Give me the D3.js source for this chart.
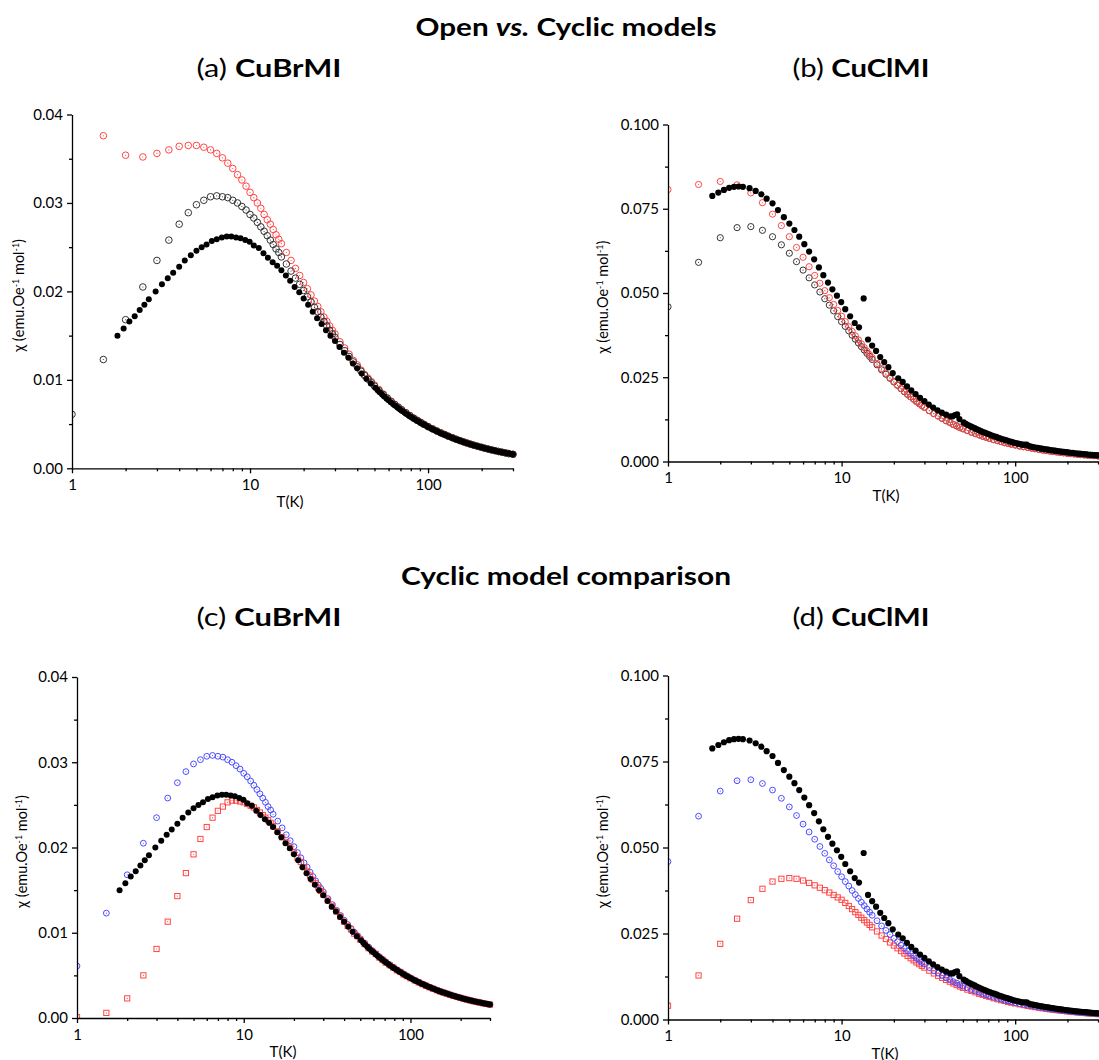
<!DOCTYPE html>
<html>
<head>
<meta charset="utf-8">
<script src="https://cdn.jsdelivr.net/npm/d3@7"></script>
<style>
body { margin: 0; background: #fff; }
svg { display: block; }
</style>
</head>
<body>
<svg id="fig" width="1099" height="1060"></svg>
<script>
// temperature grid used by the model curves (K)
const T_model = [1,1.5,2,2.5,3,3.5,4,4.5,5,5.5, 6,6.5,7,7.5,8,8.5,9,9.5,10,10.5,
    11,11.5,12,12.5,13,13.5,14,14.5,15,16, 17,18,19,20,21,22,23,24,25,26,
    27,28,29,30,32,34,36,38,40,42, 44,46,48,50,53,56,59,62,65,68,
    71,75,79,83,87,91,95,100,106,112, 118,124,130,137,144,151,158,165,173,181,
    190,199,208,218,228,238,249,260,272,284, 300];

// CuBrMI measured
const T_br_exp = [1.8,1.95,2.1,2.25,2.4,2.55,2.7,2.95,3.2,3.45, 3.7,4.0,4.3,4.65,5.0,5.35,5.7,6.1,6.5,6.95,
    7.4,7.85,8.35,8.85,9.4,9.95,10.5,11.2,11.9,12.6, 13.4,14.2,15.0,15.9,16.8,17.8,18.9,
    20.0,21.2,22.5,23.8,25.2,26.7,28.3,30.0,31.8,33.7, 35.7,37.8,40.0,42.4,45.0,47.7,50.5,52.0,53.5,55.1,
    56.7,58.4,60.0,61.8,63.6,65.5,67.4,69.4,71.4,73.5, 75.7,77.9,80.2,82.6,85.0,87.5,90.0,92.7,95.4,98.2,
    101,104,107,110,113,116.5,120,123.5,127,131, 135,139,143,147,151,155.5,160,165,170,175,
    180,185.5,191,196.5,202,208,214,220.5,227,233.5, 240,247.5,255,262.5,270,278,286,293,300];
const chi_br_exp = [.0150,.0158,.0166,.0172,.0179,.0185,.0191,.0200,.0208,.0215, .0221,.0228,.0235,.0241,.0246,.0250,.0253,.0257,.0259,.0261,
    .0262,.0262,.0261,.0260,.0258,.0256,.0252,.0249,.0243,.0238, .0233,.0229,.0224,.0218,.0212,.0205,.0199,
    .0192,.01849,.01769,.01697,.01631,.01562,.01498,.0144,.01371,.01306, .01249,.01185,.0113,.01071,.01013,.0096,.00911,.00885,.0086,.00837,
    .00813,.00789,.0077,.00748,.00728,.00707,.00688,.00669,.0065,.00633, .00614,.00598,.00581,.00565,.00549,.00534,.0052,.00505,.00491,.00478,
    .00464,.00451,.00438,.00427,.00416,.00403,.00392,.00381,.0037,.0036, .00349,.00339,.00329,.0032,.00312,.00303,.00295,.00286,.00278,.0027,
    .00262,.00254,.00247,.0024,.00234,.00227,.00221,.00215,.00208,.00203, .00197,.00191,.00185,.00181,.00176,.0017,.00166,.00162,.00158];

// CuClMI measured
const T_cl_exp = [1.8,1.95,2.1,2.25,2.4,2.55,2.7,2.95,3.2,3.45, 3.7,4.0,4.3,4.65,5.0,5.35,5.7,6.1,6.5,6.95,
    7.4,7.85,8.35,8.85,9.4,9.95,10.5,11.2,11.9,12.6, 13.4,14.2,15.0,15.8,16.7,17.6,18.6,19.7,
    21.2,22.5,23.8,25.2,26.7,28.3,30.0,31.8,33.7,35.7, 37.8,40.0,42.4,43.7,45.0,46.3,47.7,50.5,52.0,53.5,
    55.1,56.7,58.4,60.0,61.8,63.6,65.5,67.4,69.4,71.4, 73.5,75.7,77.9,80.2,82.6,85.0,87.5,90.0,92.7,95.4,
    98.2,101,104,107,110,113,116.5,120,123.5,127, 131,135,139,143,147,151,155.5,160,165,170,
    175,180,185.5,191,196.5,202,208,214,220.5,227, 233.5,240,247.5,255,262.5,270,278,286,293,300];
const chi_cl_exp = [.0788,.0798,.0806,.0812,.0815,.0816,.0815,.0811,.0803,.0793, .0780,.0766,.0746,.0725,.0706,.0687,.0667,.0645,.0623,.0600,
    .0576,.0553,.0531,.0511,.0492,.0473,.0452,.0431,.0411,.0398, .0484,.0362,.0344,.0328,.0310,.0295,.0280,.0262,
    .0247,.0236,.0223,.0211,.0200,.0189,.0179,.0169,.0160,.0152, .0145,.0139,.0134,.0134,.0138,.0140,.0126,.0116,.0112,.0108,
    .0105,.0102,.0099,.0096,.0093,.0090,.0087,.0085,.0082,.0080, .0077,.0075,.0073,.0070,.0068,.0066,.0064,.0062,.0060,.0058,
    .0056,.00545,.0053,.00515,.0050,.0050,.0050,.0046,.00442,.0043, .00416,.00404,.00392,.00381,.0037,.0036,.0035,.0034,.0033,.0032,
    .0031,.00301,.00292,.00284,.00276,.00268,.0026,.00253,.00245,.00238, .00232,.00225,.00218,.00212,.00206,.002,.00194,.00189,.00184,.0018];

// CuBrMI models on T_model
const chi_br_cyclic = [.0061,.0123,.0168,.0205,.0235,.0258,.0276,.0289,.0298,.0303, .0307,.0308,.0307,.0306,.0303,.0300,.0296,.0292,.0287,.0283,
    .0278,.0273,.0268,.0263,.0258,.0253,.0248,.0244,.0239,.0231, .0223,.0215,.0208,.0201,.0194,.0188,.0182,.0177,.0171,.0166,
    .0161,.0156,.0152,.0148,.0140,.0133,.01264,.01203,.01148,.01098, .0105,.01007,.00967,.0093,.00879,.00834,.00792,.00755,.0072,.0069,
    .0066,.00627,.00595,.00566,.00541,.00518,.00496,.00471,.00445,.00421, .004,.00381,.00363,.00345,.00328,.00313,.00299,.00286,.00273,.00261,
    .00249,.00238,.00227,.00217,.00207,.00199,.0019,.00182,.00174,.00166, .00158];
const chi_br_open = [null,.0376,.0354,.0352,.0356,.0360,.0364,.0365,.0365,.0363, .0360,.0356,.0351,.0345,.0339,.0332,.0326,.0319,.0312,.0306,
    .0300,.0294,.0287,.0281,.0276,.0270,.0264,.0259,.0254,.0244, .0235,.0226,.0218,.0210,.0203,.0196,.0189,.0183,.0177,.0171,
    .0166,.0161,.0156,.0152,.0143,.0136,.0129,.0122,.0117,.0111, .0106,.0102,.0098,.0094,.0089,.0084,.00797,.00759,.00724,.00693,
    .00663,.0063,.00597,.00568,.00543,.00519,.00497,.00472,.00446,.00422, .00401,.00382,.00364,.00345,.00328,.00313,.00299,.00286,.00273,.00261,
    .00249,.00238,.00227,.00217,.00207,.00199,.0019,.00182,.00174,.00166, .00158];
const chi_br_cyclic2 = [.0001,.0006,.0023,.0050,.0081,.0113,.0143,.0170,.0192,.0210, .0224,.0235,.0243,.0248,.0253,.0255,.0255,.0254,.0253,.0251,
    .0249,.0247,.0244,.0241,.0238,.0235,.0232,.0229,.0225,.0219, .0212,.0206,.0200,.0194,.0188,.0183,.0177,.0172,.0167,.0162,
    .0158,.0153,.0149,.0145,.0138,.0131,.0125,.0119,.0113,.0108, .0104,.0099,.0096,.0092,.0087,.0082,.0078,.0075,.0071,.0068,
    .0065,.0062,.0059,.0056,.0054,.0051,.0049,.00467,.00441,.00418, .00397,.00378,.0036,.00342,.00326,.00311,.00297,.00284,.00271,.00259,
    .00247,.00236,.00226,.00215,.00206,.00197,.00189,.00181,.00173,.00165, .00157];

// CuClMI models on T_model
const chi_cl_cyclic = [.0459,.0591,.0664,.0694,.0697,.0686,.0667,.0643,.0618,.0593, .0568,.0545,.0524,.0503,.0483,.0464,.0447,.0430,.0415,.0401,
    .0388,.0375,.0363,.0352,.0341,.0331,.0321,.0312,.0303,.0287, .0272,.0259,.0247,.0236,.0226,.0216,.0207,.0199,.0192,.0185,
    .0178,.0172,.0166,.0161,.0151,.0142,.0135,.0128,.0121,.0116, .0110,.0106,.0101,.0097,.0092,.0087,.0083,.0079,.0075,.0072,
    .0069,.0065,.0062,.0059,.0056,.0054,.0052,.0049,.0046,.0044, .0042,.0040,.0038,.0036,.0034,.00326,.00312,.00298,.00285,.00272,
    .00259,.00248,.00237,.00226,.00216,.00207,.00198,.0019,.00181,.00174, .00165];
const chi_cl_open = [.0807,.0822,.0831,.0821,.0797,.0768,.0734,.0700,.0667,.0635, .0606,.0578,.0552,.0529,.0507,.0486,.0466,.0448,.0431,.0415,
    .0400,.0386,.0373,.0361,.0349,.0338,.0327,.0317,.0308,.0291, .0276,.0262,.0249,.0238,.0227,.0217,.0208,.0200,.0192,.0185,
    .0178,.0172,.0166,.0161,.0151,.0142,.0135,.0128,.0121,.0116, .0110,.0105,.0101,.0097,.0092,.0087,.0083,.0079,.0075,.0072,
    .0069,.0065,.0062,.0059,.0056,.0054,.0051,.0049,.0046,.0044, .0042,.0040,.0038,.0036,.0034,.00325,.00311,.00297,.00284,.00271,
    .00258,.00247,.00236,.00225,.00215,.00206,.00197,.00189,.00181,.00173, .00164];
const chi_cl_cyclic2 = [.0040,.0128,.0220,.0293,.0347,.0380,.0401,.0409,.0411,.0409, .0404,.0397,.0390,.0383,.0376,.0369,.0362,.0355,.0348,.0339,
    .0330,.0321,.0312,.0304,.0296,.0289,.0282,.0275,.0268,.0256, .0244,.0234,.0224,.0215,.0207,.0199,.0192,.0185,.0178,.0172,
    .0166,.0161,.0156,.0151,.0142,.0134,.0127,.0121,.0115,.0110, .0105,.0100,.0096,.0092,.0087,.0083,.0079,.0075,.0072,.0069,
    .0066,.0062,.0059,.0056,.0054,.0051,.0049,.00468,.00442,.00418, .00397,.00378,.0036,.00342,.00326,.00311,.00297,.00285,.00272,.0026,
    .00248,.00236,.00226,.00216,.00206,.00198,.00189,.00181,.00173,.00166, .00157];

// axis ticks
const xTicksMajor = [1, 10, 100];
const xTicksMinor = [2, 3, 4, 5, 6, 7, 8, 9, 20, 30, 40, 50, 60, 70, 80, 90, 200, 300];
const brTicksMajor = [0, 0.01, 0.02, 0.03, 0.04];
const brTicksMinor = [0.005, 0.015, 0.025, 0.035];
const clTicksMajor = [0, 0.025, 0.05, 0.075, 0.1];
const clTicksMinor = [0.0125, 0.0375, 0.0625, 0.0875];

const RED = "#ff4545";
const BLUE = "#4a4aff";
const GREY = "#333333";
const FONT = "Lato, 'Open Sans', sans-serif";

const svg = d3.select("#fig");

function drawPanel(p)
{
    const x = d3.scaleLog().domain([1, 300]).range([p.left, p.right]);
    const y = d3.scaleLinear().domain([0, p.yMax]).range([p.bottom, p.top]);

    svg.append("clipPath")
        .attr("id", "clip-" + p.id)
        .append("rect")
        .attr("x", p.left)
        .attr("y", p.top - 6)
        .attr("width", 1099 - p.left)
        .attr("height", p.bottom - p.top + 6);

    const plot = svg.append("g").attr("clip-path", `url(#clip-${p.id})`);

    // markers, drawn in listed order (last on top)
    p.series.forEach(s => {
        const pts = s.T.map((t, i) => ({t: t, c: s.chi[i]})).filter(d => d.c != null);
        const m = plot.append("g")
            .selectAll("g")
            .data(pts)
            .join("g")
            .attr("transform", d => `translate(${x(d.t)},${y(d.c)})`);
        if (s.type == "filled")
        {
            m.append("circle").attr("r", s.r).attr("fill", s.color);
        }
        else
        {
            if (s.type == "square")
                m.append("rect")
                    .attr("x", -s.r).attr("y", -s.r)
                    .attr("width", 2 * s.r).attr("height", 2 * s.r)
                    .attr("fill", "none").attr("stroke", s.color).attr("stroke-width", 1);
            else
                m.append("circle").attr("r", s.r)
                    .attr("fill", "none").attr("stroke", s.color).attr("stroke-width", 1);
            m.append("circle").attr("r", 0.55).attr("fill", s.color);
        }
    });

    // y axis
    svg.append("g")
        .attr("transform", `translate(${p.left},0)`)
        .call(d3.axisLeft(y).tickValues(p.yMinor).tickSize(3).tickFormat(""))
        .call(g => g.select(".domain").remove());
    svg.append("g")
        .attr("transform", `translate(${p.left},0)`)
        .call(d3.axisLeft(y).tickValues(p.yMajor).tickSize(5).tickSizeOuter(0)
            .tickPadding(4).tickFormat(d3.format(p.yFormat)))
        .attr("font-family", FONT)
        .attr("font-size", 15);

    // x axis
    svg.append("g")
        .attr("transform", `translate(0,${p.bottom})`)
        .call(d3.axisBottom(x).tickValues(xTicksMinor).tickSize(3).tickFormat(""))
        .call(g => g.select(".domain").remove());
    svg.append("g")
        .attr("transform", `translate(0,${p.bottom})`)
        .call(d3.axisBottom(x).tickValues(xTicksMajor).tickSize(5).tickSizeOuter(0)
            .tickPadding(6).tickFormat(d3.format("d")))
        .attr("font-family", FONT)
        .attr("font-size", 15);

    svg.selectAll(".domain, .tick line").attr("stroke", "#000").attr("stroke-width", 1.3);

    // axis titles
    svg.append("text")
        .attr("x", p.xLabelX)
        .attr("y", p.bottom + 39)
        .attr("text-anchor", "middle")
        .attr("font-family", FONT)
        .attr("font-size", 15)
        .text("T(K)");

    const yl = svg.append("text")
        .attr("transform", `translate(${p.yLabelX},${(p.top + p.bottom) / 2 + 4}) rotate(-90)`)
        .attr("text-anchor", "middle")
        .attr("font-family", FONT)
        .attr("font-size", 14.5);
    yl.append("tspan").text("\u03c7 (emu.Oe");
    yl.append("tspan").attr("dy", -5).attr("font-size", 9).text("-1");
    yl.append("tspan").attr("dy", 5).text(" mol");
    yl.append("tspan").attr("dy", -5).attr("font-size", 9).text("-1");
    yl.append("tspan").attr("dy", 5).text(")");
}

function heading(txt, cx, baseline, width)
{
    svg.append("text")
        .attr("x", cx)
        .attr("y", baseline)
        .attr("text-anchor", "middle")
        .attr("font-family", FONT)
        .attr("font-weight", "bold")
        .attr("font-size", 25)
        .attr("textLength", width)
        .attr("lengthAdjust", "spacingAndGlyphs")
        .text(txt);
}

function subHeading(letter, name, cx, baseline, width)
{
    const t = svg.append("text")
        .attr("x", cx)
        .attr("y", baseline)
        .attr("text-anchor", "middle")
        .attr("font-family", FONT)
        .attr("font-size", 25)
        .attr("textLength", width)
        .attr("lengthAdjust", "spacingAndGlyphs");
    t.append("tspan").text(letter + " ");
    t.append("tspan").attr("font-weight", "bold").text(name);
}

// headings
const h1 = svg.append("text")
    .attr("x", 566).attr("y", 36)
    .attr("text-anchor", "middle")
    .attr("font-family", FONT).attr("font-weight", "bold").attr("font-size", 25)
    .attr("textLength", 301).attr("lengthAdjust", "spacingAndGlyphs");
h1.append("tspan").text("Open ");
h1.append("tspan").attr("font-style", "italic").text("vs.");
h1.append("tspan").text(" Cyclic models");

subHeading("(a)", "CuBrMI", 269, 77, 145);
subHeading("(b)", "CuClMI", 861, 77, 137);
heading("Cyclic model comparison", 566, 585, 330);
subHeading("(c)", "CuBrMI", 269, 626, 145);
subHeading("(d)", "CuClMI", 861, 626, 137);

// (a) open vs cyclic, CuBrMI
drawPanel({
    id: "a", left: 72, right: 513, top: 114.5, bottom: 468.3,
    yMax: 0.04, yMajor: brTicksMajor, yMinor: brTicksMinor, yFormat: ".2f",
    xLabelX: 290, yLabelX: 24,
    series: [
        {T: T_model, chi: chi_br_open, type: "open", color: RED, r: 3.3},
        {T: T_model, chi: chi_br_cyclic, type: "open", color: GREY, r: 3.3},
        {T: T_br_exp, chi: chi_br_exp, type: "filled", color: "#000", r: 3.0}
    ]
});

// (b) open vs cyclic, CuClMI
drawPanel({
    id: "b", left: 668, right: 1098, top: 124.5, bottom: 461.5,
    yMax: 0.1, yMajor: clTicksMajor, yMinor: clTicksMinor, yFormat: ".3f",
    xLabelX: 886, yLabelX: 608,
    series: [
        {T: T_model, chi: chi_cl_cyclic, type: "open", color: GREY, r: 3.1},
        {T: T_model, chi: chi_cl_open, type: "open", color: RED, r: 3.1},
        {T: T_cl_exp, chi: chi_cl_exp, type: "filled", color: "#000", r: 3.1}
    ]
});

// (c) cyclic model comparison, CuBrMI
drawPanel({
    id: "c", left: 77, right: 490, top: 677, bottom: 1018,
    yMax: 0.04, yMajor: brTicksMajor, yMinor: brTicksMinor, yFormat: ".2f",
    xLabelX: 283, yLabelX: 27,
    series: [
        {T: T_model, chi: chi_br_cyclic, type: "open", color: BLUE, r: 2.9},
        {T: T_model, chi: chi_br_cyclic2, type: "square", color: RED, r: 2.6},
        {T: T_br_exp, chi: chi_br_exp, type: "filled", color: "#000", r: 3.0}
    ]
});

// (d) cyclic model comparison, CuClMI
drawPanel({
    id: "d", left: 668, right: 1098, top: 675.5, bottom: 1019.5,
    yMax: 0.1, yMajor: clTicksMajor, yMinor: clTicksMinor, yFormat: ".3f",
    xLabelX: 885, yLabelX: 608,
    series: [
        {T: T_model, chi: chi_cl_cyclic2, type: "square", color: RED, r: 2.6},
        {T: T_model, chi: chi_cl_cyclic, type: "open", color: BLUE, r: 2.9},
        {T: T_cl_exp, chi: chi_cl_exp, type: "filled", color: "#000", r: 3.1}
    ]
});
</script>
</body>
</html>
